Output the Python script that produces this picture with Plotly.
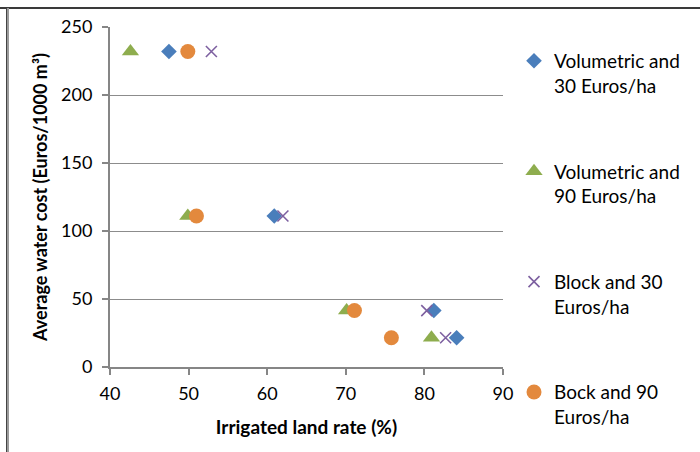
import plotly.graph_objects as go

# Irrigated land rate (%) and average water cost (Euros/1000 m³) per pricing scheme
vol30_rate = [47.5, 60.9, 81.2, 84.1]
vol30_cost = [232, 111, 41.5, 21.5]

vol90_rate = [42.6, 49.9, 70.1, 80.9]
vol90_cost = [232, 111, 41.5, 21.5]

block30_rate = [52.9, 62.0, 80.3, 82.7]
block30_cost = [232, 111, 41.5, 21.5]

block90_rate = [49.9, 51.0, 71.1, 75.8]
block90_cost = [232, 111, 41.5, 21.5]

series_names = [
    "Volumetric and<br>30 Euros/ha",
    "Volumetric and<br>90 Euros/ha",
    "Block and 30<br>Euros/ha",
    "Bock and 90<br>Euros/ha",
]

x_ticks = [40, 50, 60, 70, 80, 90]
y_ticks = [0, 50, 100, 150, 200, 250]

FONT = "Lato, 'Open Sans', sans-serif"

fig = go.Figure()

styles = [
    dict(symbol="diamond", size=12, color="#4A7EBB"),
    dict(symbol="triangle-up", size=15, color="#8EAD4E"),
    dict(symbol="x-thin", size=11, color="#7D60A0", line=dict(width=1.6, color="#7D60A0")),
    dict(symbol="circle", size=15, color="#E3893D"),
]
data = [
    (vol30_rate, vol30_cost),
    (vol90_rate, vol90_cost),
    (block30_rate, block30_cost),
    (block90_rate, block90_cost),
]

for i, ((xs, ys), name, st) in enumerate(zip(data, series_names, styles)):
    fig.add_trace(go.Scatter(
        x=xs, y=ys, mode="markers", name=name,
        legendgroup=f"g{i}",
        marker=st,
        cliponaxis=False,
    ))

axis_common = dict(
    showline=True, linecolor="#868686", linewidth=2,
    ticks="outside", tickcolor="#868686", ticklen=6, tickwidth=1.5,
    tickfont=dict(family=FONT, size=18, color="#000000"),
    zeroline=False,
)

fig.update_xaxes(
    range=[40, 90], tickvals=x_ticks, showgrid=False,
    ticklabelstandoff=3,
    title=dict(text="<b>Irrigated land rate (%)</b>",
               font=dict(family=FONT, size=19, color="#000000"), standoff=18),
    **axis_common,
)
fig.update_yaxes(
    range=[0, 250], tickvals=y_ticks, showgrid=True,
    gridcolor="#8C8C8C", gridwidth=1,
    ticklabelstandoff=6,
    title=dict(text="<b>Average water cost (Euros/1000 m³)</b>",
               font=dict(family=FONT, size=18, color="#000000"), standoff=9),
    **axis_common,
)

fig.update_layout(
    width=700, height=452,
    margin=dict(l=110, r=197, t=27, b=85, autoexpand=False),
    paper_bgcolor="white", plot_bgcolor="white",
    font=dict(family=FONT, size=18, color="#000000"),
    showlegend=True,
    legend=dict(
        x=1.028, xanchor="left", y=0.956, yanchor="top",
        maxheight=420,
        traceorder="grouped", tracegroupgap=58, valign="top",
        font=dict(family=FONT, size=19, color="#000000"),
        bgcolor="rgba(0,0,0,0)",
    ),
    shapes=[
        # outer frame: top rule and left rule
        dict(type="line", xref="paper", yref="paper",
             x0=-110 / 393, x1=590 / 393, y0=359 / 340, y1=359 / 340,
             line=dict(color="#3A3A3A", width=2)),
        dict(type="line", xref="paper", yref="paper",
             x0=-102.5 / 393, x1=-102.5 / 393, y0=-85 / 340, y1=359 / 340,
             line=dict(color="#9A9A9A", width=3)),
        dict(type="line", xref="paper", yref="paper",
             x0=-103.5 / 393, x1=-103.5 / 393, y0=-85 / 340, y1=359 / 340,
             line=dict(color="#444444", width=1)),
    ],
)

fig.write_html("out.html")
